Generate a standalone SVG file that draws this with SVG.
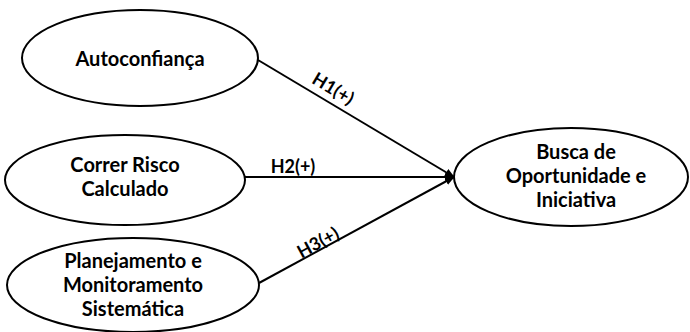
<svg xmlns="http://www.w3.org/2000/svg" width="690" height="332" viewBox="0 0 690 332">
<style>
.n ellipse{fill:#fff;stroke:#000;stroke-width:2}
.t{font-family:Lato,"Open Sans","Liberation Sans",sans-serif;font-weight:700;font-size:20px;fill:#000;text-anchor:middle}
.l{font-family:Lato,"Open Sans","Liberation Sans",sans-serif;font-weight:700;font-size:18px;fill:#000;text-anchor:middle}
.c line{stroke:#000;stroke-width:2}
</style>
<defs>
<marker id="ah" viewBox="0 0 10 10" refX="9" refY="5" markerWidth="5" markerHeight="5" orient="auto" markerUnits="strokeWidth">
<path d="M0,1 L10,5 L0,9 Z" fill="#000"/>
</marker>
</defs>
<g id="n1" class="n"><ellipse cx="140" cy="58" rx="118" ry="48"/><text class="t" x="140" y="66">Autoconfiança</text></g>
<g id="n2" class="n"><ellipse cx="125" cy="180" rx="120" ry="45"/><text class="t" x="125" y="172">Correr Risco</text><text class="t" x="125" y="196">Calculado</text></g>
<g id="n3" class="n"><ellipse cx="133" cy="285" rx="126" ry="47"/><text class="t" x="133" y="268">Planejamento e</text><text class="t" x="133" y="292">Monitoramento</text><text class="t" x="133" y="316">Sistemática</text></g>
<g id="n4" class="n"><ellipse cx="571" cy="177" rx="117" ry="49"/><text class="t" x="576" y="159">Busca de</text><text class="t" x="576" y="183">Oportunidade e</text><text class="t" x="576" y="207">Iniciativa</text></g>
<g id="connectors" class="c">
<line x1="258" y1="60" x2="454" y2="177" marker-end="url(#ah)"/>
<line x1="245" y1="177" x2="454" y2="177" marker-end="url(#ah)"/>
<line x1="259" y1="283" x2="454" y2="177" marker-end="url(#ah)"/>
<text class="l" x="0" y="0" transform="translate(330,94) rotate(30.8)">H1(+)</text>
<text class="l" x="293" y="173">H2(+)</text>
<text class="l" x="0" y="0" transform="translate(321,248) rotate(-28.5)">H3(+)</text>
</g>
</svg>
